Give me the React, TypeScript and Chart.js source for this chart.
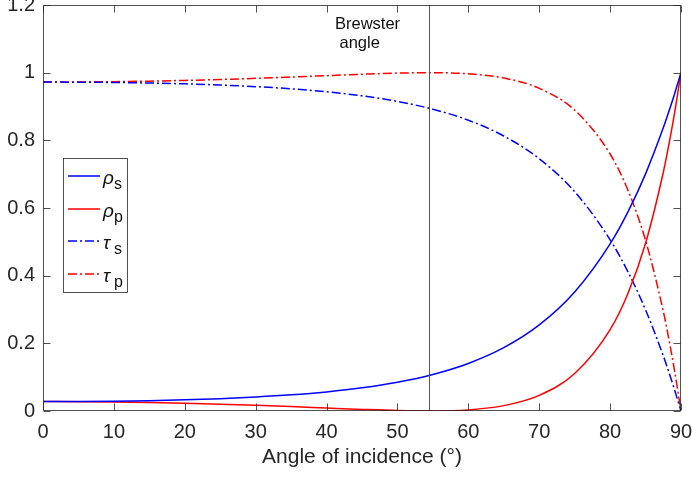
import React, { useEffect, useRef } from "react";
import { Chart, registerables } from "chart.js";

Chart.register(...registerables);

const angles = [0, 5, 10, 15, 20, 25, 30, 35, 40, 45, 50, 55, 60, 65, 70, 75, 80, 82.5, 85, 87.5, 88, 89, 90];
const rhoS = [0.0278, 0.0281, 0.029, 0.0306, 0.0331, 0.0365, 0.0413, 0.0477, 0.0565, 0.0685, 0.085, 0.1081, 0.1406, 0.1871, 0.2543, 0.3518, 0.494, 0.5878, 0.7009, 0.8369, 0.8672, 0.9313, 1];
const rhoP = [0.0278, 0.0275, 0.0266, 0.0251, 0.0229, 0.0202, 0.0168, 0.013, 0.0088, 0.0047, 0.0013, 0.0, 0.0033, 0.0159, 0.0463, 0.1108, 0.2404, 0.3467, 0.4957, 0.705, 0.7561, 0.8696, 1];
const tauS = [0.9722, 0.9719, 0.971, 0.9694, 0.9669, 0.9635, 0.9587, 0.9523, 0.9435, 0.9315, 0.915, 0.8919, 0.8594, 0.8129, 0.7457, 0.6482, 0.506, 0.4122, 0.2991, 0.1631, 0.1328, 0.0687, 0];
const tauP = [0.9722, 0.9725, 0.9734, 0.9749, 0.9771, 0.9798, 0.9832, 0.987, 0.9912, 0.9953, 0.9987, 1.0, 0.9967, 0.9841, 0.9537, 0.8892, 0.7596, 0.6533, 0.5043, 0.295, 0.2439, 0.1304, 0];

const xTicks = [0, 10, 20, 30, 40, 50, 60, 70, 80, 90];
const yTicks = [0, 0.2, 0.4, 0.6, 0.8, 1, 1.2];
const yTickLabels = ["0", "0.2", "0.4", "0.6", "0.8", "1", "1.2"];
const brewsterAngle = 54.5;
const xTitle = "Angle of incidence (°)";
const legendSymbols = ["ρ", "ρ", "τ", "τ"];
const legendSubs = ["s", "p", "s", "p"];

const BLUE = "#0000ff";
const RED = "#ff0000";
const TXT = "#262626";
const AX = "#262626";
const FONT = '"Liberation Sans", Arial, Helvetica, sans-serif';
const DASHDOT = [9, 3, 2, 3];

const legendColors = [BLUE, RED, BLUE, RED];
const legendDash = [[], [], DASHDOT, DASHDOT];

const mk = (vals: number[]) => angles.map((a, i) => ({ x: a, y: vals[i] }));

const decorPlugin = {
  id: "decor",
  afterDatasetsDraw(chart: any) {
    const { ctx, chartArea: ca, scales } = chart;
    const xs = scales.x;
    const ys = scales.y;
    ctx.save();
    // Brewster line
    const bx = Math.round(xs.getPixelForValue(brewsterAngle)) + 0.5;
    ctx.strokeStyle = "#555555";
    ctx.lineWidth = 1;
    ctx.setLineDash([]);
    ctx.beginPath();
    ctx.moveTo(bx, ca.top);
    ctx.lineTo(bx, ca.bottom);
    ctx.stroke();
    // Brewster text
    ctx.fillStyle = "#111111";
    ctx.font = `16.5px ${FONT}`;
    ctx.textAlign = "left";
    ctx.textBaseline = "alphabetic";
    ctx.fillText("Brewster", 335, 29);
    ctx.fillText("angle", 339.5, 48);

    // frame
    ctx.strokeStyle = AX;
    ctx.lineWidth = 0.8;
    const L = Math.round(ca.left) + 0.5, R = Math.round(ca.right) - 0.5;
    const T = Math.round(ca.top) + 0.5, B = Math.round(ca.bottom) - 0.5;
    ctx.beginPath();
    ctx.rect(L, T, R - L, B - T);
    ctx.stroke();
    const tl = 7;
    ctx.beginPath();
    xTicks.forEach((v) => {
      const px = Math.round(xs.getPixelForValue(v)) + 0.5;
      ctx.moveTo(px, B);
      ctx.lineTo(px, B - tl);
      ctx.moveTo(px, T);
      ctx.lineTo(px, T + tl);
    });
    yTicks.forEach((v) => {
      const py = Math.round(ys.getPixelForValue(v)) + 0.5;
      ctx.moveTo(L, py);
      ctx.lineTo(L + tl, py);
      ctx.moveTo(R, py);
      ctx.lineTo(R - tl, py);
    });
    ctx.stroke();

    // legend
    const lx0 = 63.5, ly0 = 158.5, lw = 64, lh = 134;
    ctx.fillStyle = "#ffffff";
    ctx.fillRect(lx0, ly0, lw, lh);
    ctx.strokeStyle = AX;
    ctx.lineWidth = 0.8;
    ctx.strokeRect(lx0, ly0, lw, lh);
    const rows = [176, 209, 241, 274];
    rows.forEach((ry, i) => {
      ctx.strokeStyle = legendColors[i];
      ctx.lineWidth = 1.5;
      ctx.setLineDash(legendDash[i]);
      ctx.beginPath();
      ctx.moveTo(68, ry);
      ctx.lineTo(100, ry);
      ctx.stroke();
      ctx.setLineDash([]);
      ctx.fillStyle = "#111111";
      ctx.font = `italic 19px ${FONT}`;
      ctx.fillText(legendSymbols[i], 103, ry + 8);
      ctx.font = `16px ${FONT}`;
      ctx.fillText(legendSubs[i], 114, ry + 13);
    });
    ctx.restore();
  },
};

export default function App() {
  const ref = useRef<HTMLCanvasElement | null>(null);
  useEffect(() => {
    if (!ref.current) return;
    const chart = new Chart(ref.current, {
      type: "line",
      data: {
        datasets: [
          { label: "ρs", data: mk(rhoS), borderColor: BLUE, borderWidth: 1.5, pointRadius: 0, cubicInterpolationMode: "monotone", fill: false },
          { label: "ρp", data: mk(rhoP), borderColor: RED, borderWidth: 1.5, pointRadius: 0, cubicInterpolationMode: "monotone", fill: false },
          { label: "τs", data: mk(tauS), borderColor: BLUE, borderWidth: 1.5, borderDash: DASHDOT, pointRadius: 0, cubicInterpolationMode: "monotone", fill: false },
          { label: "τp", data: mk(tauP), borderColor: RED, borderWidth: 1.5, borderDash: DASHDOT, pointRadius: 0, cubicInterpolationMode: "monotone", fill: false },
        ],
      },
      options: {
        animation: false,
        responsive: false,
        maintainAspectRatio: false,
        devicePixelRatio: 1,
        layout: { padding: { top: 5, right: 11, left: 0, bottom: 0 } },
        plugins: { legend: { display: false }, tooltip: { enabled: false }, title: { display: false } },
        scales: {
          x: {
            type: "linear",
            min: 0,
            max: 90,
            afterBuildTicks: (s: any) => {
              s.ticks = xTicks.map((v) => ({ value: v }));
            },
            afterFit: (s: any) => {
              s.height = 67;
              s.paddingLeft = 0;
              s.paddingRight = 0;
            },
            ticks: { color: TXT, font: { family: FONT, size: 20 }, padding: 9, maxRotation: 0, autoSkip: false, callback: (v: any) => String(v) },
            grid: { display: false, drawTicks: false },
            border: { display: false },
            title: { display: true, text: xTitle, color: TXT, font: { family: FONT, size: 21 }, padding: { top: 0, bottom: 8 } },
          },
          y: {
            type: "linear",
            min: 0,
            max: 1.2,
            afterBuildTicks: (s: any) => {
              s.ticks = yTicks.map((v) => ({ value: v }));
            },
            afterFit: (s: any) => {
              s.width = 43;
              s.paddingTop = 0;
              s.paddingBottom = 0;
            },
            ticks: {
              color: TXT,
              font: { family: FONT, size: 20 },
              padding: 8,
              autoSkip: false,
              callback: (_v: any, i: number) => yTickLabels[i],
            },
            grid: { display: false, drawTicks: false },
            border: { display: false },
          },
        },
      },
      plugins: [decorPlugin],
    } as any);
    return () => chart.destroy();
  }, []);
  return (
    <div style={{ position: "fixed", left: 0, top: 0, width: 692, height: 478, background: "#fff" }}>
      <canvas ref={ref} width={692} height={478} style={{ display: "block", width: 692, height: 478 }} />
    </div>
  );
}
